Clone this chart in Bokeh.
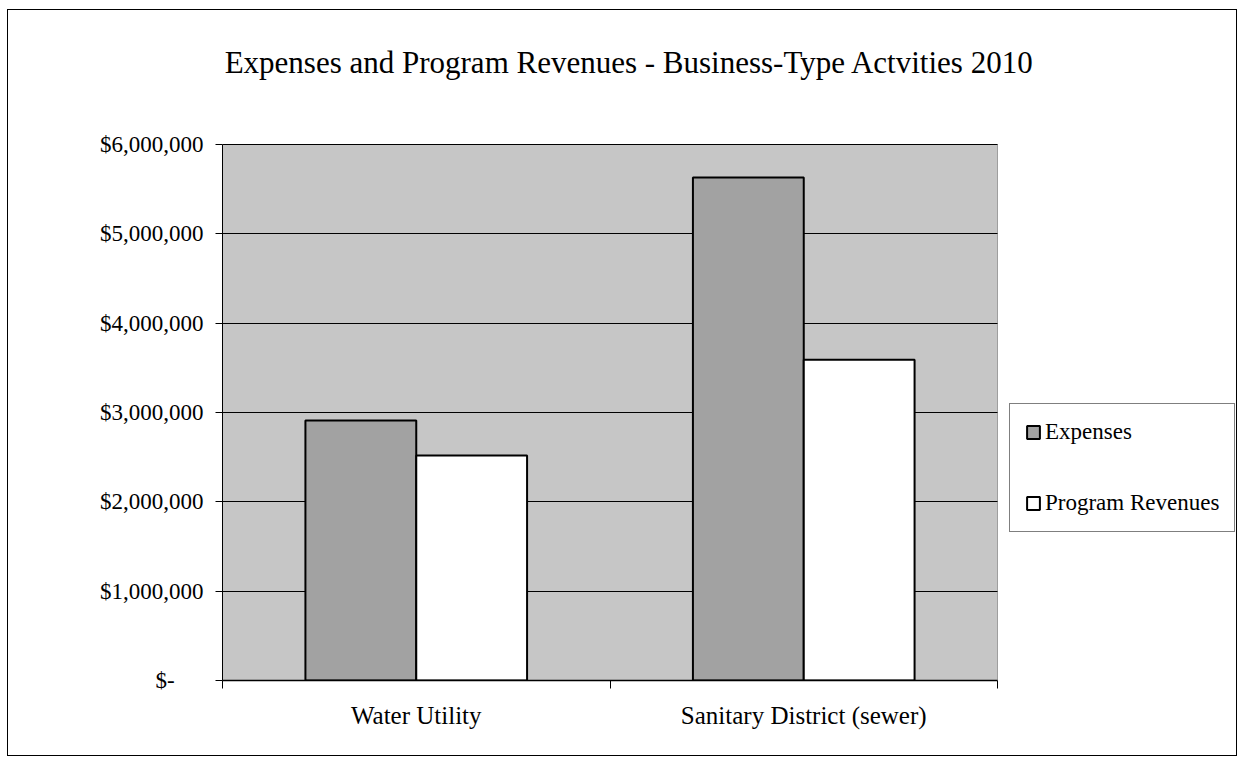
from bokeh.plotting import figure
from bokeh.models import (ColumnDataSource, Range1d, FixedTicker, BoxAnnotation, Label,
                          NumeralTickFormatter, Legend, LegendItem)
from bokeh.transform import dodge
from bokeh.embed import file_html
from bokeh.resources import INLINE

categories = ["Water Utility", "Sanitary District (sewer)"]
expenses = [2910000, 5630000]
program_revenues = [2520000, 3590000]
series_names = ["Expenses", "Program Revenues"]
y_ticks = [0, 1000000, 2000000, 3000000, 4000000, 5000000, 6000000]
title_text = "Expenses and Program Revenues - Business-Type Actvities 2010"

FONT = "Liberation Serif"
W, H = 1228, 745
BORDER_L, BORDER_B = 214, 75
PLOT_W, PLOT_H = 775, 536          # pixel size of the grey plot area
frame_w, frame_h = W - BORDER_L, H - BORDER_B
n = len(categories)
y_max = max(y_ticks)

# category slots on a numeric axis: slot i spans [i, i+1], centre i+0.5
centres = [i + 0.5 for i in range(n)]
src = ColumnDataSource(dict(pos=centres, category=categories,
                            expenses=expenses, revenues=program_revenues))

# the frame also holds the title and legend area; the grey plot area is [0,n] x [0,y_max]
p = figure(width=W, height=H, x_range=Range1d(0, n * frame_w / PLOT_W),
           y_range=Range1d(0, y_max * frame_h / PLOT_H),
           output_backend="svg", toolbar_location=None,
           min_border_left=BORDER_L, min_border_right=0,
           min_border_top=0, min_border_bottom=BORDER_B)
p.styles = {"margin-left": "8px", "margin-top": "10px", "outline": "1.5px solid black"}

p.background_fill_color = "white"
p.border_fill_color = "white"
p.outline_line_color = None

p.add_layout(BoxAnnotation(left=0, right=n, bottom=0, top=y_max, level="image",
                           fill_color="#c6c6c6", fill_alpha=1,
                           line_color="black", line_width=1))

p.add_layout(Label(x=407, y=618, x_units="screen", y_units="screen", text=title_text,
                   text_align="center", text_baseline="alphabetic",
                   text_font=FONT, text_font_size="31px", text_color="black"))

xaxis = p.xaxis[0]
xaxis.bounds = (0, n)
xaxis.ticker = FixedTicker(ticks=centres, minor_ticks=list(range(n + 1)))
xaxis.major_label_overrides = {c: name for c, name in zip(centres, categories)}
xaxis.major_tick_out = 0
xaxis.major_tick_in = 0
xaxis.minor_tick_out = 8
xaxis.minor_tick_in = 0
xaxis.minor_tick_line_color = "black"
xaxis.axis_line_color = "black"
xaxis.axis_line_width = 1.5
xaxis.major_label_text_font = FONT
xaxis.major_label_text_font_size = "25px"
xaxis.major_label_text_color = "black"
xaxis.major_label_standoff = 13
p.xgrid.visible = False

yaxis = p.yaxis[0]
yaxis.bounds = (0, y_max)
yaxis.ticker = FixedTicker(ticks=y_ticks)
yaxis.formatter = NumeralTickFormatter(format="$0,0")
yaxis.major_label_overrides = {0: "$-" + "\u00a0" * 5}
yaxis.major_tick_out = 7
yaxis.major_tick_in = 0
yaxis.minor_tick_out = 0
yaxis.minor_tick_in = 0
yaxis.major_tick_line_color = "black"
yaxis.axis_line_color = "black"
yaxis.major_label_text_font = FONT
yaxis.major_label_text_font_size = "23px"
yaxis.major_label_text_color = "black"
yaxis.major_label_standoff = 12

p.ygrid.grid_line_color = "black"
p.ygrid.grid_line_width = 1
p.ygrid.ticker = FixedTicker(ticks=y_ticks)
p.ygrid.cross_bounds = (0, n)

r1 = p.vbar(x=dodge("pos", -0.143), top="expenses", width=0.286,
            source=src, fill_color="#a2a2a2", line_color="black", line_width=2)
r2 = p.vbar(x=dodge("pos", 0.143), top="revenues", width=0.286,
            source=src, fill_color="white", line_color="black", line_width=2)

legend = Legend(items=[LegendItem(label=series_names[0], renderers=[r1]),
                       LegendItem(label=series_names[1], renderers=[r2])],
                location=(787, 148), orientation="vertical")
legend.label_text_font = FONT
legend.label_text_font_size = "23px"
legend.label_text_color = "black"
legend.glyph_width = 16
legend.glyph_height = 16
legend.label_standoff = 4
legend.label_height = 26
legend.spacing = 45
legend.padding = 15
legend.margin = 0
legend.border_line_color = "black"
legend.border_line_width = 1.5
legend.background_fill_color = "white"
legend.background_fill_alpha = 1
p.add_layout(legend, "center")

open("out.html", "w").write(file_html(p, INLINE))
